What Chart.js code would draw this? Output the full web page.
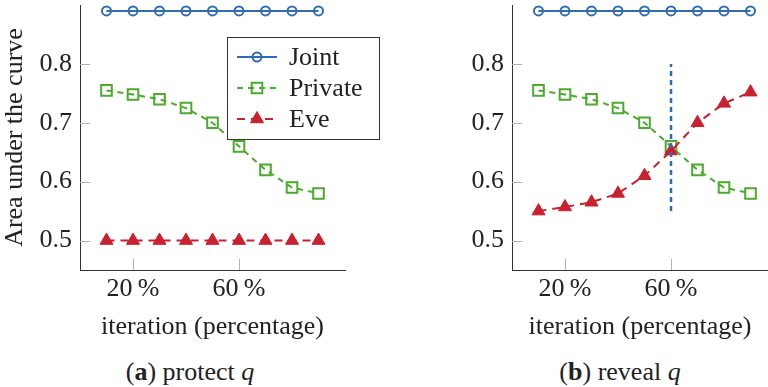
<!DOCTYPE html>
<html>
<head>
<meta charset="utf-8">
<script src="https://cdn.jsdelivr.net/npm/chart.js@4.4.1/dist/chart.umd.min.js"></script>
<style>
  body { margin: 0; width: 768px; height: 387px; overflow: hidden; background: #fff; position: relative; }
  canvas { position: absolute; top: 0; }
  #protect { left: 0; }
  #reveal { left: 432px; }
  .cap { position: absolute; top: 357px; width: 380px; text-align: center; font-size: 26px; line-height: 30px; font-family: "Liberation Serif", "Times New Roman", serif; color: #222; }
</style>
</head>
<body>
<canvas id="protect" width="384" height="345"></canvas>
<canvas id="reveal" width="336" height="345"></canvas>
<div class="cap" style="left:0">(<b>a</b>) protect <i>q</i></div>
<div class="cap" style="left:430px">(<b>b</b>) reveal <i>q</i></div>
<script>
// values
const iterations = [10, 20, 30, 40, 50, 60, 70, 80, 90];
const jointAuc = [0.89, 0.89, 0.89, 0.89, 0.89, 0.89, 0.89, 0.89, 0.89];
const privateAuc = [0.755, 0.748, 0.74, 0.725, 0.70, 0.66, 0.62, 0.59, 0.58];
const eveProtect = [0.5, 0.5, 0.5, 0.5, 0.5, 0.5, 0.5, 0.5, 0.5];
const eveReveal = [0.55, 0.557, 0.565, 0.58, 0.61, 0.652, 0.70, 0.733, 0.752];
const revealAt = [60, 60];
const revealSpan = [0.55, 0.8];
const xTicks = [20, 60];
const yTicks = [0.5, 0.6, 0.7, 0.8];

const BLUE = "#2f6cb3";
const GREEN = "#4aab2e";
const RED = "#c9212f";
const FAMILY = '"Liberation Serif", "Times New Roman", serif';
const FONT = { family: FAMILY, size: 26 };

const toPoints = (xs, ys) => xs.map((x, i) => ({ x, y: ys[i] }));

// short grey tick marks pointing into the plot
const innerTicks = {
  id: "innerTicks",
  beforeDatasetsDraw(chart) {
    const { ctx, chartArea, scales } = chart;
    ctx.save();
    ctx.strokeStyle = "#b0b0b0";
    ctx.lineWidth = 1;
    ctx.beginPath();
    scales.y.ticks.forEach((t) => {
      const y = Math.round(scales.y.getPixelForValue(t.value)) + 0.5;
      ctx.moveTo(chartArea.left, y);
      ctx.lineTo(chartArea.left + 10, y);
    });
    scales.x.ticks.forEach((t) => {
      const x = Math.round(scales.x.getPixelForValue(t.value)) + 0.5;
      ctx.moveTo(x, chartArea.bottom);
      ctx.lineTo(x, chartArea.bottom - 11);
    });
    ctx.stroke();
    ctx.restore();
  },
};

// boxed legend sitting over the plot, like the pgfplots one
const boxLegend = {
  id: "boxLegend",
  afterDatasetsDraw(chart, args, opts) {
    if (!opts.show) return;
    const { ctx } = chart;
    const box = { x: 227, y: 37, w: 152, h: 102 };
    ctx.save();
    ctx.fillStyle = "#fff";
    ctx.fillRect(box.x, box.y, box.w, box.h);
    ctx.strokeStyle = "#333";
    ctx.lineWidth = 1;
    ctx.strokeRect(box.x + 0.5, box.y + 0.5, box.w, box.h);
    const rows = chart.data.datasets.filter((d) => d.label);
    rows.forEach((d, i) => {
      const y = box.y + 20 + i * 31;
      ctx.strokeStyle = d.borderColor;
      ctx.lineWidth = d.borderWidth;
      ctx.setLineDash(d.borderDash || []);
      ctx.beginPath();
      ctx.moveTo(box.x + 10, y);
      ctx.lineTo(box.x + 50, y);
      ctx.stroke();
      ctx.setLineDash([]);
      ctx.strokeStyle = d.pointBorderColor;
      ctx.fillStyle = d.pointBackgroundColor;
      ctx.lineWidth = d.pointBorderWidth;
      Chart.helpers.drawPoint(ctx, { pointStyle: d.pointStyle, radius: d.pointRadius, rotation: 0, borderWidth: d.pointBorderWidth }, box.x + 30, y);
      ctx.fillStyle = "#222";
      ctx.font = "26px " + FAMILY;
      ctx.textBaseline = "middle";
      ctx.fillText(d.label, box.x + 62, y + 1);
    });
    ctx.restore();
  },
};

function makePanel(id, eveValues, opts) {
  const datasets = [
    {
      label: "Joint",
      data: toPoints(iterations, jointAuc),
      borderColor: BLUE,
      borderWidth: 2,
      pointStyle: "circle",
      pointRadius: 4.5,
      pointBorderWidth: 2,
      pointBorderColor: BLUE,
      pointBackgroundColor: "rgba(0,0,0,0)",
      order: 3,
    },
    {
      label: "Private",
      data: toPoints(iterations, privateAuc),
      borderColor: GREEN,
      borderWidth: 2,
      borderDash: [6, 5],
      pointStyle: "rect",
      pointRadius: 7.5,
      pointBorderWidth: 2,
      pointBorderColor: GREEN,
      pointBackgroundColor: "rgba(0,0,0,0)",
      order: 2,
    },
    {
      label: "Eve",
      data: toPoints(iterations, eveValues),
      borderColor: RED,
      borderWidth: 2,
      borderDash: [8, 6],
      pointStyle: "triangle",
      pointRadius: 7.5,
      pointBorderWidth: 1,
      pointBorderColor: RED,
      pointBackgroundColor: RED,
      order: 1,
    },
  ];
  if (opts.marker) {
    datasets.push({
      data: toPoints(revealAt, revealSpan),
      borderColor: BLUE,
      borderWidth: 2.5,
      borderDash: [5, 4],
      pointRadius: 0,
      order: 0,
    });
  }

  return new Chart(document.getElementById(id), {
    type: "line",
    data: { datasets },
    plugins: [innerTicks, boxLegend],
    options: {
      responsive: false,
      animation: false,
      events: [],
      clip: false,
      layout: { autoPadding: false, padding: { top: 5, left: 0, right: opts.padRight, bottom: 0 } },
      plugins: {
        legend: { display: false },
        tooltip: { enabled: false },
        boxLegend: { show: opts.legend },
      },
      scales: {
        x: {
          type: "linear",
          min: 0,
          max: opts.xMax,
          afterBuildTicks: (s) => { s.ticks = xTicks.map((v) => ({ value: v })); },
          afterFit: (s) => { s.height = 75; s.paddingLeft = 0; s.paddingRight = 0; },
          grid: { display: false, drawTicks: false },
          border: { display: true, color: "#333", width: 1 },
          ticks: {
            color: "#222",
            font: FONT,
            padding: 4,
            maxRotation: 0,
            callback: (v) => v + "\u2009%",
          },
          title: {
            display: true,
            text: "iteration (percentage)",
            color: "#222",
            font: FONT,
            padding: { top: 0, bottom: 2 },
          },
        },
        y: {
          min: 0.45,
          max: 0.9,
          afterBuildTicks: (s) => { s.ticks = yTicks.map((v) => ({ value: v })); },
          afterFit: (s) => { s.width = 80; s.paddingTop = 0; s.paddingBottom = 0; },
          grid: { display: false, drawTicks: false },
          border: { display: true, color: "#333", width: 1 },
          ticks: {
            color: "#222",
            font: FONT,
            padding: 8,
            callback: (v) => v.toFixed(1),
          },
          title: {
            display: opts.yTitle,
            text: "Area under the curve",
            color: "#222",
            font: FONT,
            padding: 0,
          },
        },
      },
    },
  });
}

makePanel("protect", eveProtect, { legend: true, yTitle: true, marker: false, xMax: 100, padRight: 39 });
makePanel("reveal", eveReveal, { legend: false, yTitle: false, marker: true, xMax: 96.6, padRight: 0 });
</script>
</body>
</html>
